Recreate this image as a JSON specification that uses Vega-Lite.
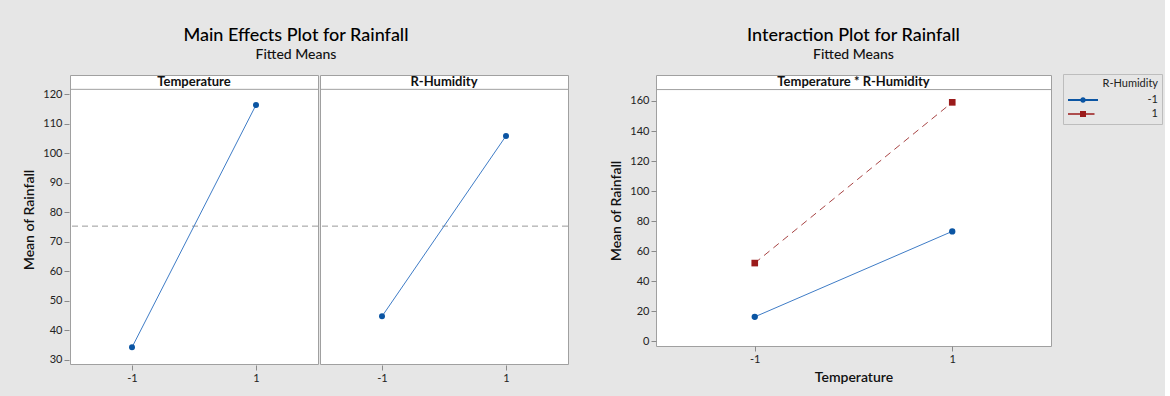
{
  "$schema": "https://vega.github.io/schema/vega-lite/v6.json",
  "background": "#e6e6e6",
  "padding": {"left": 22, "top": 26, "right": 2, "bottom": 11},
  "autosize": {"type": "pad"},
  "datasets": {
    "main": [
      {"factor": "Temperature", "level": -1, "mean": 34.2},
      {"factor": "Temperature", "level": 1, "mean": 116.4},
      {"factor": "R-Humidity", "level": -1, "mean": 44.7},
      {"factor": "R-Humidity", "level": 1, "mean": 105.9}
    ],
    "inter": [
      {"temp": -1, "rh": "-1", "mean": 16.3},
      {"temp": 1, "rh": "-1", "mean": 73.2},
      {"temp": -1, "rh": "1", "mean": 52.1},
      {"temp": 1, "rh": "1", "mean": 159.1}
    ]
  },
  "spacing": 40,
  "hconcat": [
    {
      "title": {"text": "Main Effects Plot for Rainfall", "subtitle": "Fitted Means"},
      "data": {"name": "main"},
      "spacing": 0,
      "facet": {
        "column": {"field": "factor", "type": "nominal", "sort": ["Temperature", "R-Humidity"], "header": {"title": null, "labels": false}}
      },
      "spec": {
        "width": 248,
        "height": 289,
        "encoding": {
          "x": {"field": "level", "type": "quantitative", "scale": {"domain": [-2, 2], "nice": false, "zero": false},
                "axis": {"values": [-1, 1], "title": null, "labelExpr": "'' + datum.value"}},
          "y": {"field": "mean", "type": "quantitative", "scale": {"domain": [28.54, 126.56], "nice": false, "zero": false},
                "axis": {"values": [30, 40, 50, 60, 70, 80, 90, 100, 110, 120], "title": "Mean of Rainfall"}}
        },
        "layer": [
          {
            "mark": {"type": "rule", "color": "#a0a0a0", "strokeWidth": 1},
            "transform": [{"filter": "datum.level == -1"}],
            "encoding": {"x": null, "y": {"datum": 121.7, "type": "quantitative", "axis": {"values": [30, 40, 50, 60, 70, 80, 90, 100, 110, 120], "title": "Mean of Rainfall"}}}
          },
          {
            "mark": {"type": "text", "fontSize": 13, "fontWeight": "bold", "baseline": "middle", "color": "#111"},
            "transform": [{"filter": "datum.level == -1"}],
            "encoding": {
              "x": {"datum": 0, "type": "quantitative", "axis": {"values": [-1, 1], "title": null, "labelExpr": "'' + datum.value"}},
              "y": {"datum": 124.1, "type": "quantitative", "axis": {"values": [30, 40, 50, 60, 70, 80, 90, 100, 110, 120], "title": "Mean of Rainfall"}},
              "text": {"field": "factor"}
            }
          },
          {
            "mark": {"type": "rule", "color": "#9a9a9a", "strokeDash": [6, 4], "strokeWidth": 1},
            "transform": [{"filter": "datum.level == -1"}],
            "encoding": {"x": null, "y": {"datum": 75.3, "type": "quantitative", "axis": {"values": [30, 40, 50, 60, 70, 80, 90, 100, 110, 120], "title": "Mean of Rainfall"}}}
          },
          {
            "mark": {"type": "line", "color": "#3f7cc6", "strokeWidth": 1}
          },
          {
            "mark": {"type": "point", "filled": true, "opacity": 1, "color": "#0b55a3", "size": 36, "shape": "circle"}
          }
        ]
      }
    },
    {
      "title": {"text": "Interaction Plot for Rainfall", "subtitle": "Fitted Means"},
      "data": {"name": "inter"},
      "width": 395,
      "height": 271,
      "encoding": {
        "x": {"field": "temp", "type": "quantitative", "scale": {"domain": [-2, 2], "nice": false, "zero": false},
              "axis": {"values": [-1, 1], "title": "Temperature", "labelExpr": "'' + datum.value"}},
        "y": {"field": "mean", "type": "quantitative", "scale": {"domain": [-3.1, 177.3], "nice": false, "zero": false},
              "axis": {"values": [0, 20, 40, 60, 80, 100, 120, 140, 160], "title": "Mean of Rainfall"}}
      },
      "layer": [
        {
          "mark": {"type": "rule", "color": "#a0a0a0", "strokeWidth": 1},
          "transform": [{"filter": "datum.temp == -1 && datum.rh == '-1'"}],
          "encoding": {"x": null, "y": {"datum": 167.6, "type": "quantitative", "axis": {"values": [0, 20, 40, 60, 80, 100, 120, 140, 160], "title": "Mean of Rainfall"}}}
        },
        {
          "mark": {"type": "text", "fontSize": 13, "fontWeight": "bold", "baseline": "middle", "color": "#111"},
          "transform": [{"filter": "datum.temp == -1 && datum.rh == '-1'"}],
          "encoding": {
            "x": {"datum": 0, "type": "quantitative", "axis": {"values": [-1, 1], "title": "Temperature", "labelExpr": "'' + datum.value"}},
            "y": {"datum": 172.45, "type": "quantitative", "axis": {"values": [0, 20, 40, 60, 80, 100, 120, 140, 160], "title": "Mean of Rainfall"}},
            "text": {"value": "Temperature * R-Humidity"}
          }
        },
        {
          "mark": {"type": "line", "strokeWidth": 1, "color": "#3f7cc6"},
          "transform": [{"filter": "datum.rh == '-1'"}]
        },
        {
          "mark": {"type": "line", "strokeWidth": 1, "color": "#a84444", "strokeDash": [7, 5]},
          "transform": [{"filter": "datum.rh == '1'"}]
        },
        {
          "mark": {"type": "point", "filled": true, "opacity": 1, "size": 44, "shape": "square", "color": "#9b1b1b"},
          "transform": [{"filter": "datum.rh == '1'"}]
        },
        {
          "mark": {"type": "point", "filled": true, "opacity": 1, "size": 40, "shape": "circle", "color": "#0b55a3"},
          "transform": [{"filter": "datum.rh == '-1'"}]
        },
        {
          "mark": {"type": "point", "filled": true, "opacity": 0, "size": 40},
          "encoding": {
            "color": {"field": "rh", "type": "nominal", "scale": {"domain": ["-1", "1"], "range": ["#0b55a3", "#9b1b1b"]},
              "legend": {
                "title": "R-Humidity", "orient": "none", "legendX": 993, "legendY": -1, "direction": "vertical",
                "symbolSize": 100, "symbolOpacity": 1, "labelAlign": "right", "labelOffset": 79,
                "titleAnchor": "end", "titleAlign": "right", "titleFontSize": 11, "titleFontWeight": "normal", "titleColor": "#222",
                "labelFontSize": 11, "labelColor": "#222", "padding": 4, "rowPadding": 2,
                "strokeColor": "#bdbdbd", "fillColor": "#e6e6e6", "cornerRadius": 0
              }
            },
            "shape": {"field": "rh", "type": "nominal",
              "scale": {"domain": ["-1", "1"], "range": [
                "M-1,-0.2H5V0.2H-1ZM2.55,0A0.55,0.55,0,1,1,1.45,0A0.55,0.55,0,1,1,2.55,0Z",
                "M-1,-0.13H4.3V0.13H-1ZM1.4,-0.6H2.6V0.6H1.4Z"
              ]},
              "legend": {
                "title": "R-Humidity", "orient": "none", "legendX": 993, "legendY": -1, "direction": "vertical",
                "symbolSize": 100, "symbolOpacity": 1, "labelAlign": "right", "labelOffset": 79,
                "titleAnchor": "end", "titleAlign": "right", "titleFontSize": 11, "titleFontWeight": "normal", "titleColor": "#222",
                "labelFontSize": 11, "labelColor": "#222", "padding": 4, "rowPadding": 2,
                "strokeColor": "#bdbdbd", "fillColor": "#e6e6e6", "cornerRadius": 0
              }
            }
          }
        }
      ]
    }
  ],
  "config": {
    "font": "Lato",
    "view": {"stroke": "#a0a0a0", "fill": "white"},
    "title": {"fontSize": 18, "fontWeight": 500, "color": "#000", "subtitleFontSize": 14, "subtitleFontWeight": 500, "subtitleColor": "#111", "anchor": "middle", "offset": 13, "subtitlePadding": 3},
    "axis": {"labelFontSize": 11, "labelColor": "#222", "titleFontSize": 14, "titleFontWeight": 600, "titleColor": "#111", "tickColor": "#8a8a8a", "tickSize": 5, "domain": false, "grid": false, "labelPadding": 2, "titlePadding": 6}
  }
}
